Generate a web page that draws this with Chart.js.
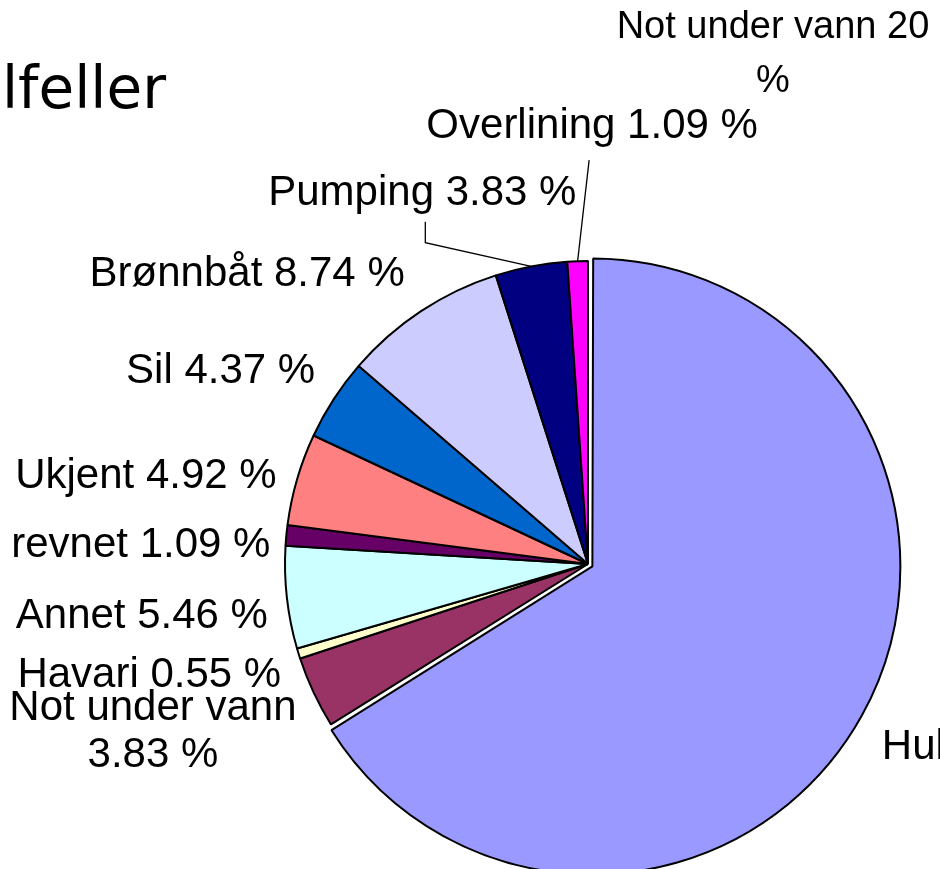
<!DOCTYPE html>
<html lang="no">
<head>
<meta charset="utf-8">
<title>Rømming – årsaker</title>
<script src="https://cdn.jsdelivr.net/npm/chart.js@4.4.4/dist/chart.umd.min.js"></script>
<style>
  html, body { margin: 0; padding: 0; background: #fff; }
  #wrap { position: relative; width: 940px; height: 869px; }
</style>
</head>
<body>
<div id="wrap"><canvas id="kake" width="940" height="869"></canvas></div>
<script>
/* ── Data (lest av bildet) ── */
const KATEGORIER = ['Hul', 'Not under vann', 'Havari', 'Annet', 'revnet', 'Ukjent',
                    'Sil', 'Brønnbåt', 'Pumping', 'Overlining', 'Not under vann 20'];
const PROSENT    = [66.12, 3.83, 0.55, 5.46, 1.09, 4.92, 4.37, 8.74, 3.83, 1.09, 0];
const TITTEL     = 'lfeller';

/* ── Utseende ── */
const FARGER = ['#9999ff', '#993366', '#ffffcc', '#ccffff', '#660066', '#ff8080',
                '#0066cc', '#ccccff', '#000080', '#ff00ff', '#ffff00'];
const UTSKYV = [10, 0, 0, 0, 0, 0, 0, 0, 0, 0, 0]; // px, bare "Hul" er trukket ut
// Chart.js v4 forskyver buen med offset/2, så verdien dobles
const OFFSET_CJS = UTSKYV.map(v => v * 2);

/* plassering av etikett: [dx, dy, justering, linjeavstand, skrift, ledelinje] */
const PLASS = [
  [  7,   36, 'left',   0, 42, false],
  [-147,  21, 'center', 47, 42, false],
  [ -3,   29, 'right',  0, 42, false],
  [ -4,   29, 'right',  0, 42, false],
  [ -1,   23, 'right',  0, 42, false],
  [ -6,   13, 'right',  0, 42, false],
  [ -6,   -8, 'right',  0, 42, false],
  [ -8,  -13, 'right',  0, 42, false],
  [-106, -47, 'center', 0, 42, 'knekk'],
  [ 15, -108, 'center', 0, 42, 'rett'],
  [185, -208, 'center', 54, 38, false]
];
const TO_LINJER = [1, 10]; // etiketter som brytes på to linjer

function etikettLinjer(i) {
  const navn = KATEGORIER[i];
  const v = PROSENT[i];
  const pst = (v > 0 ? v.toFixed(2) + ' ' : '') + '%';
  if (TO_LINJER.includes(i)) return [navn, pst];
  return [navn + ' ' + pst];
}

/* ── Plugin: tittel og dataetiketter ── */
const etiketter = {
  id: 'etiketter',
  afterDatasetsDraw(chart) {
    const ctx = chart.ctx;
    const meta = chart.getDatasetMeta(0);
    ctx.save();
    ctx.fillStyle = '#000';
    ctx.strokeStyle = '#000';
    ctx.lineWidth = 1.3;
    ctx.textBaseline = 'alphabetic';

    meta.data.forEach(function (arc, i) {
      const p = arc.getProps(['x', 'y', 'startAngle', 'endAngle', 'outerRadius'], true);
      const mid = (p.startAngle + p.endAngle) / 2;
      const off = UTSKYV[i];
      const c = Math.cos(mid), s = Math.sin(mid);
      const ax = p.x + (off + p.outerRadius + 15) * c;
      const ay = p.y + (off + p.outerRadius + 15) * s;
      const ex = p.x + (off + p.outerRadius) * c;
      const ey = p.y + (off + p.outerRadius) * s;

      const [dx, dy, just, lh, size, leder] = PLASS[i];
      const lx = ax + dx, by = ay + dy;

      ctx.font = size + 'px "Liberation Sans", Arial, sans-serif';
      ctx.textAlign = just;
      etikettLinjer(i).forEach(function (t, k) {
        ctx.fillText(t, lx, by + k * lh);
      });

      if (leder === 'knekk') {
        ctx.beginPath();
        ctx.moveTo(ex, ey);
        ctx.lineTo(lx + 3, by + 38);
        ctx.lineTo(lx + 3, by + 17);
        ctx.stroke();
      } else if (leder === 'rett') {
        ctx.beginPath();
        ctx.moveTo(ex, ey);
        ctx.lineTo(lx - 3, by + 22);
        ctx.stroke();
      }
    });

    /* tittel (kuttet i venstre kant som i originalen) */
    ctx.font = '58px "DejaVu Sans", sans-serif';
    ctx.textAlign = 'left';
    ctx.fillText(TITTEL, 2, 108);
    ctx.restore();
  }
};

new Chart(document.getElementById('kake'), {
  type: 'pie',
  data: {
    labels: KATEGORIER,
    datasets: [{
      data: PROSENT,
      backgroundColor: FARGER,
      borderColor: '#000',
      borderWidth: 2,
      offset: OFFSET_CJS,
      clip: false
    }]
  },
  options: {
    responsive: false,
    animation: false,
    radius: 303,
    layout: { padding: { left: 236, right: 0, top: 259, bottom: 0 } },
    plugins: {
      legend: { display: false },
      title: { display: false },
      tooltip: { enabled: false }
    }
  },
  plugins: [etiketter]
});
</script>
</body>
</html>
